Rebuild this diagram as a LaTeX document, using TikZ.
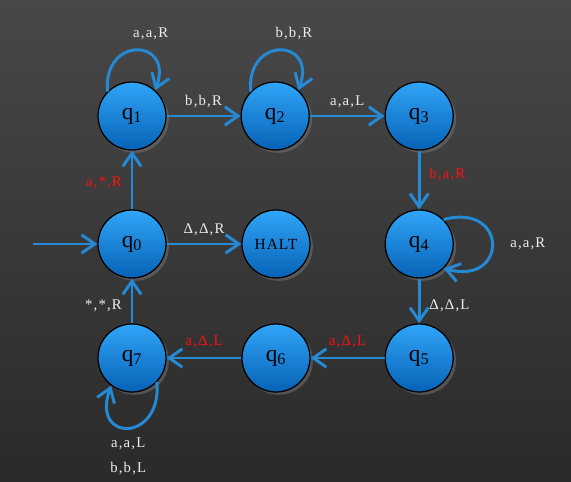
\documentclass[tikz,border=0pt]{standalone}
\usepackage{fontspec}
\setmainfont{Liberation Serif}
\usetikzlibrary{arrows.meta,shadows}
\definecolor{bgtop}{RGB}{72,72,72}
\definecolor{bgbot}{RGB}{42,42,42}
\definecolor{statetop}{RGB}{48,165,248}
\definecolor{statebot}{RGB}{6,98,182}
\definecolor{edgeblue}{RGB}{36,138,214}
\definecolor{labwhite}{RGB}{236,236,236}
\definecolor{labred}{RGB}{255,16,16}
\newcommand{\labfont}{\fontsize{10.5}{12}\selectfont\addfontfeature{LetterSpace=8}}
\begin{document}
\begin{tikzpicture}[
	tmstate/.style={circle,draw=black,line width=0.9pt,top color=statetop,bottom color=statebot,minimum size=1.7cm,inner sep=0pt,font=\fontsize{16.5}{16.5}\selectfont,drop shadow={shadow xshift=0.07cm,shadow yshift=-0.07cm,opacity=0.45}},
	trans/.style={draw=edgeblue,line width=2.1pt,-{Straight Barb[length=3.3mm,width=4.6mm]}},
	lab/.style={text=labwhite,font=\labfont},
	redlab/.style={text=labred,font=\labfont}]
	%background
	\shade[top color=bgtop,bottom color=bgbot] (0,0) rectangle (14.275,12.05);
	\useasboundingbox (0,0) rectangle (14.275,12.05);

	%states
	\node[tmstate] (q1) at (3.3,9.15) {q\textsubscript{1}};
	\node[tmstate] (q2) at (6.88,9.15) {q\textsubscript{2}};
	\node[tmstate] (q3) at (10.48,9.15) {q\textsubscript{3}};
	\node[tmstate] (q0) at (3.3,5.95) {q\textsubscript{0}};
	\node[tmstate,font=\fontsize{11}{11}\selectfont\addfontfeature{LetterSpace=6}] (halt) at (6.9,5.95) {HALT};
	\node[tmstate] (q4) at (10.48,5.95) {q\textsubscript{4}};
	\node[tmstate] (q7) at (3.3,3.1) {q\textsubscript{7}};
	\node[tmstate] (q6) at (6.9,3.1) {q\textsubscript{6}};
	\node[tmstate] (q5) at (10.48,3.1) {q\textsubscript{5}};
	\coordinate (start) at (0.82,5.95);

	%transitions
	\draw[trans] (start) -- (q0); %start arrow
	\draw[trans] (q0) -- node[redlab,pos=0.45,left=1mm] {a,*,R} (q1);
	\draw[trans] (q1) -- node[lab,midway,above=0.5mm] {b,b,R} (q2);
	\draw[trans] (q2) -- node[lab,midway,above=0.5mm] {a,a,L} (q3);
	\draw[trans] (q3) -- node[redlab,pos=0.4,right=1mm] {b,a,R} (q4);
	\draw[trans] (q4) -- node[lab,pos=0.6,right=1mm] {Δ,Δ,L} (q5);
	\draw[trans] (q5) -- node[redlab,midway,above=1mm] {a,Δ,L} (q6);
	\draw[trans] (q6) -- node[redlab,midway,above=1mm] {a,Δ,L} (q7);
	\draw[trans] (q7) -- node[lab,pos=0.4,left=1mm] {*,*,R} (q0);
	\draw[trans] (q0) -- node[lab,midway,above=0.5mm] {Δ,Δ,R} (halt);

	%loops
	\draw[trans] (q1.135) to[out=95,in=70,looseness=3] node[lab,midway,above=1mm,xshift=0.35cm] {a,a,R} (q1.48);
	\draw[trans] (q2.135) to[out=95,in=70,looseness=3] node[lab,midway,above=1mm,xshift=0.35cm] {b,b,R} (q2.48);
	\draw[trans] (q4.45) to[out=15,in=-15,looseness=3.5] node[lab,midway,right=3mm] {a,a,R} (q4.-45);
	\draw[trans] (q7.-44) to[out=-85,in=-110,looseness=3.4] node[lab,midway,below=1mm,align=center] {a,a,L\\[2mm]b,b,L} (q7.-127);
\end{tikzpicture}
\end{document}
